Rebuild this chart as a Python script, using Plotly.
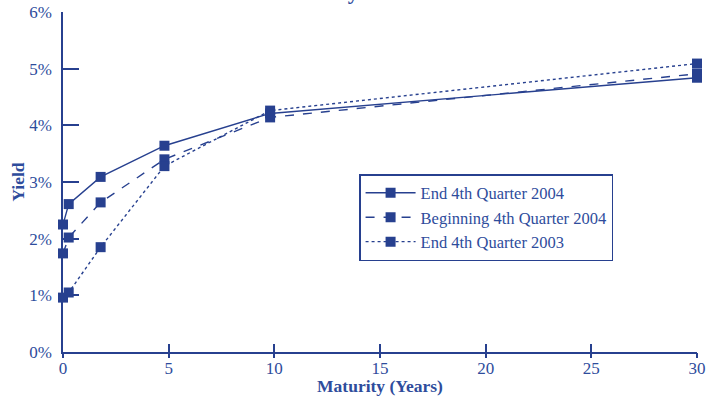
import plotly.graph_objects as go

maturity = [0.0, 0.27, 1.78, 4.8, 9.8, 30.0]
end_q4_2004 = [2.25, 2.61, 3.09, 3.64, 4.21, 4.84]
begin_q4_2004 = [1.74, 2.02, 2.64, 3.40, 4.14, 4.91]
end_q4_2003 = [0.96, 1.05, 1.85, 3.28, 4.26, 5.09]

series_names = ["End 4th Quarter 2004", "Beginning 4th Quarter 2004", "End 4th Quarter 2003"]
dashes = ["solid", "dash", "dot"]

x_ticks = [0, 5, 10, 15, 20, 25, 30]
y_ticks = [0, 1, 2, 3, 4, 5, 6]
y_tick_labels = ["0%", "1%", "2%", "3%", "4%", "5%", "6%"]

title_text = "Treasury Yield Curves"

LINE = "#27408F"
TEXT = "#2E4C9C"
FONT = "Liberation Serif"

fig = go.Figure()
for name, ys, dash in zip(series_names, [end_q4_2004, begin_q4_2004, end_q4_2003], dashes):
    fig.add_trace(go.Scatter(
        x=maturity, y=ys, name=name, mode="lines+markers",
        line=dict(color=LINE, width=1.4, dash=dash),
        marker=dict(symbol="square", size=10, color=LINE),
        cliponaxis=False,
    ))

# secondary x axis to draw the below-axis part of the crossing ticks
fig.add_trace(go.Scatter(x=[0, 30], y=[0, 0], xaxis="x2", mode="markers",
                         marker=dict(opacity=0), showlegend=False, hoverinfo="skip"))

fig.update_layout(
    width=720, height=396,
    margin=dict(l=63, r=23, t=12, b=44, autoexpand=False),
    paper_bgcolor="white", plot_bgcolor="white",
    font=dict(family=FONT, color=TEXT, size=17),
    showlegend=True,
    legend=dict(
        x=0.467, y=0.5235, xanchor="left", yanchor="top",
        bordercolor=LINE, borderwidth=1.5, bgcolor="white",
        font=dict(family=FONT, size=16.5, color=TEXT),
        itemwidth=50, tracegroupgap=0,
    ),
    xaxis=dict(
        range=[0, 30], tickvals=x_ticks, ticks="inside", ticklen=8, tickwidth=1.5,
        tickcolor=LINE, showline=True, linecolor=LINE, linewidth=1.5,
        showgrid=False, zeroline=False, automargin=False,
        title=dict(text="<b>Maturity (Years)</b>", font=dict(family=FONT, size=17.5, color=TEXT), standoff=0),
        tickfont=dict(family=FONT, size=17, color=TEXT),
    ),
    xaxis2=dict(
        range=[0, 30], tickvals=x_ticks, ticks="outside", ticklen=5, tickwidth=1.5,
        tickcolor=LINE, showticklabels=False, overlaying="x", side="bottom",
        showgrid=False, zeroline=False, showline=False, automargin=False,
    ),
    yaxis=dict(
        range=[0, 6], tickvals=y_ticks, ticktext=y_tick_labels, ticks="inside",
        ticklen=16, tickwidth=1.5, tickcolor=LINE, showline=True, linecolor=LINE,
        linewidth=1.5, showgrid=False, zeroline=False, automargin=False,
        ticklabelstandoff=6, ticklabeloverflow="allow",
        title=dict(text="<b>Yield</b>", font=dict(family=FONT, size=17.5, color=TEXT), standoff=0),
        tickfont=dict(family=FONT, size=17, color=TEXT),
    ),
    annotations=[dict(
        text="<b>" + title_text + "</b>", xref="paper", yref="paper",
        x=0.5, y=1.018, xanchor="center", yanchor="bottom", showarrow=False,
        font=dict(family=FONT, size=22, color=TEXT),
    )],
)

# remove the browser's default 8px body margin so the figure fills the window
fig.write_html("out.html", config={"displayModeBar": False},
               post_script="document.body.style.margin='0';")
